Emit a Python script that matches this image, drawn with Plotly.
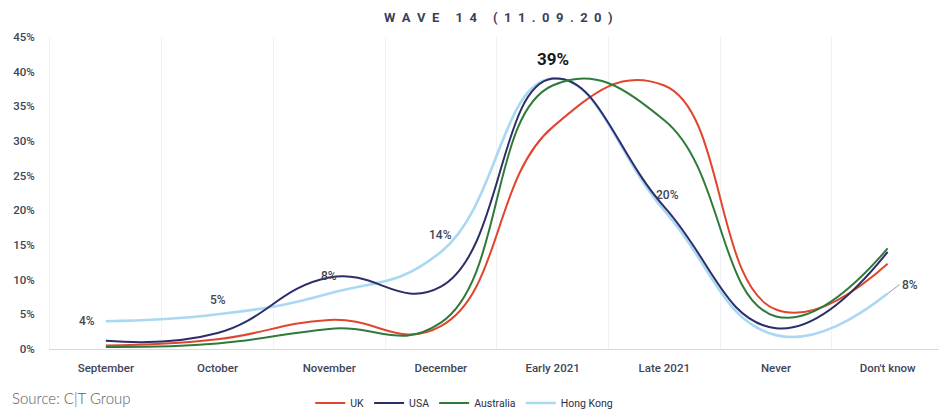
import plotly.graph_objects as go

# Expected timing of a return to normal, share of respondents (%)
categories = ["September", "October", "November", "December",
              "Early 2021", "Late 2021", "Never", "Don't know"]
uk = [0.5, 1.4, 4.2, 3.3, 32, 38, 5.7, 12.3]
usa = [1.2, 2.3, 10.3, 9.0, 39, 20.5, 3.0, 14.0]
australia = [0.3, 0.8, 2.9, 3.8, 38, 33, 4.7, 14.5]
hong_kong = [4, 5, 8, 14, 39, 20, 2, 8]
y_ticks = [0, 5, 10, 15, 20, 25, 30, 35, 40, 45]

colors = {
    "UK": "#e0462d",
    "USA": "#2b2e6a",
    "Australia": "#2f7a3b",
    "Hong Kong": "#a9d9f2",
}
label_color = "#414556"

fig = go.Figure()

# Hong Kong sits underneath the other lines; legend order is set by rank
series = [
    ("Hong Kong", hong_kong, 4, 2.6),
    ("UK", uk, 1, 2.0),
    ("USA", usa, 2, 2.0),
    ("Australia", australia, 3, 2.0),
]
for name, values, rank, width in series:
    fig.add_trace(go.Scatter(
        x=categories, y=values, name=name, mode="lines",
        line=dict(color=colors[name], width=width, shape="spline", smoothing=1.3),
        legendrank=rank, hoverinfo="skip",
    ))

# Value labels on the Hong Kong series
lab_font = dict(family="Roboto", size=12, color=label_color, weight=500)
labels = [
    (0, dict(xanchor="right", yanchor="middle", xshift=-9, yshift=0)),
    (1, dict(xanchor="center", yanchor="bottom", yshift=5)),
    (2, dict(xanchor="center", yanchor="bottom", yshift=9)),
    (3, dict(xanchor="center", yanchor="bottom", yshift=8)),
    (5, dict(xanchor="center", yanchor="bottom", xshift=3, yshift=6)),
]
for i, pos in labels:
    fig.add_annotation(x=categories[i], y=hong_kong[i], text=f"{hong_kong[i]}%",
                       showarrow=False, font=lab_font, **pos)

fig.add_annotation(x=categories[4], y=hong_kong[4], text=f"<b>{hong_kong[4]}%</b>",
                   showarrow=False, xanchor="center", yanchor="bottom", yshift=8,
                   font=dict(family="Roboto", size=17, color="#1a1a1a"))

fig.add_annotation(x=categories[7], y=hong_kong[7], text=f"{hong_kong[7]}%",
                   showarrow=True, arrowhead=0, arrowwidth=1, arrowcolor="#9a9a9a",
                   ax=12, ay=-9, xanchor="left", yanchor="middle",
                   font=lab_font)

# Letter-spaced title
gap = "\u00a0\u00a0"
word_gap = "\u00a0" * 5
title_text = gap.join("WAVE") + word_gap + gap.join("14") + word_gap + gap.join("(11.09.20)")
fig.add_annotation(xref="paper", yref="paper", x=0.504, y=1.0, yshift=20,
                   text=f"<b>{title_text}</b>",
                   showarrow=False, xanchor="center", yanchor="middle",
                   font=dict(family="Roboto", size=13, color="#3a3f5c"))
fig.add_annotation(xref="paper", yref="paper", x=-0.045, y=-0.157,
                   text="Source: C|T Group", showarrow=False,
                   xanchor="left", yanchor="middle",
                   font=dict(family="Lato", size=15, color="#575757", weight=300))

fig.update_layout(
    width=939, height=411,
    margin=dict(l=50, r=0, t=37, b=62, autoexpand=False),
    paper_bgcolor="white", plot_bgcolor="white",
    showlegend=True,
    legend=dict(orientation="h", x=0.466, xanchor="center", y=-0.173, yanchor="middle",
                font=dict(family="Roboto", size=10.5, color="#2b2e40"),
                itemwidth=30, tracegroupgap=0, bgcolor="rgba(0,0,0,0)"),
    xaxis=dict(
        type="category", categoryorder="array", categoryarray=categories,
        range=[-0.5, 7.46], tickson="boundaries",
        showgrid=True, gridcolor="#f1f2f6", gridwidth=1,
        showline=True, linecolor="#d8d8dc", linewidth=1,
        ticks="", ticklabelstandoff=8, zeroline=False, fixedrange=True,
        tickfont=dict(family="Roboto", size=11.5, color=label_color, weight=500),
    ),
    yaxis=dict(
        range=[0, 45], tickvals=y_ticks, ticktext=[f"{v}%" for v in y_ticks],
        showgrid=False, zeroline=False, showline=True, linecolor="#f1f2f6",
        ticks="", ticklabelstandoff=12, fixedrange=True,
        tickfont=dict(family="Roboto", size=11.5, color=label_color, weight=500),
    ),
)

fig.write_html("out.html")
